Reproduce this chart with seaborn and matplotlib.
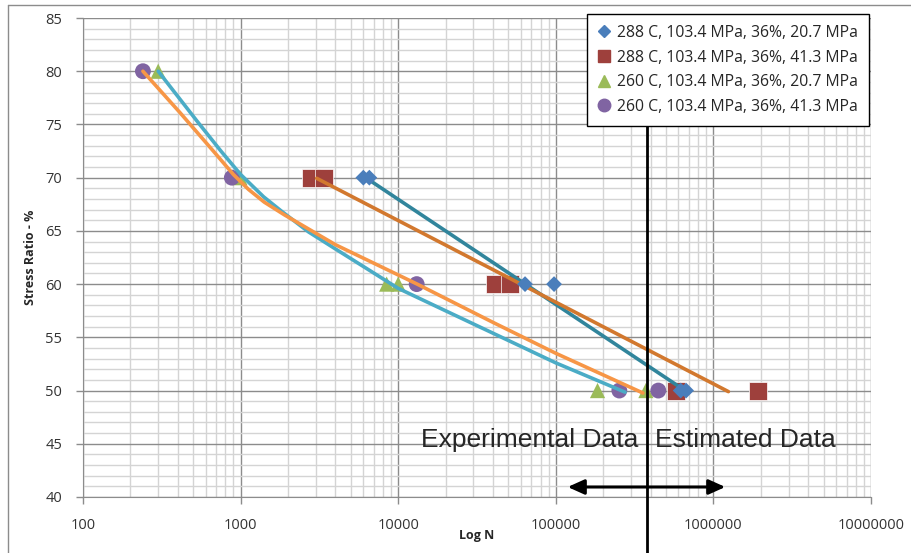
import numpy as np
import pandas as pd
import matplotlib
matplotlib.use("Agg")
import matplotlib.pyplot as plt
import seaborn as sns
from matplotlib.ticker import LogLocator, MultipleLocator, FixedLocator, NullFormatter
from matplotlib.lines import Line2D

# test points (N cycles, stress ratio %)
n_288_207 = [6010, 6560, 63800, 97500, 620000, 671000]
s_288_207 = [70, 70, 60, 60, 50, 50]
n_288_413 = [2780, 3360, 41400, 51500, 580000, 1910000]
s_288_413 = [70, 70, 60, 60, 50, 50]
n_260_207 = [300, 990, 8450, 10000, 184000, 373000]
s_260_207 = [80, 70, 60, 60, 50, 50]
n_260_413 = [240, 880, 13100, 253000, 447000]
s_260_413 = [80, 70, 60, 50, 50]

# fitted curves as drawn on the chart
fit_288_207_n = [6310, 676000]
fit_288_207_s = [69.94, 49.9]
fit_288_413_n = [3040, 1245000]
fit_288_413_s = [69.94, 49.9]
fit_260_207_n = [300, 530, 750, 1000, 1400, 1800, 2700, 4000, 10000, 31600, 100000, 275000]
fit_260_207_s = [80.0, 75.3, 72.5, 70.3, 68.2, 66.9, 64.9, 63.3, 59.6, 56.1, 52.6, 49.85]
fit_260_413_n = [240, 413, 671, 900, 1122, 1413, 1900, 4000, 13200, 40000, 100000, 357000]
fit_260_413_s = [80.0, 76.1, 72.5, 70.3, 68.9, 67.7, 66.5, 63.7, 60.0, 56.4, 53.5, 49.77]

labels = ["288 C, 103.4 MPa, 36%, 20.7 MPa",
          "288 C, 103.4 MPa, 36%, 41.3 MPa",
          "260 C, 103.4 MPa, 36%, 20.7 MPa",
          "260 C, 103.4 MPa, 36%, 41.3 MPa"]

split_n = 377000

sns.set_style("white")
plt.rcParams['font.family'] = ['Open Sans', 'DejaVu Sans']

W, H = 911, 553
fig = plt.figure(figsize=(W / 100, H / 100), dpi=100)
ax = fig.add_axes([83 / W, 1 - 497 / H, (871 - 83) / W, (497 - 18) / H])

# fitted lines
sns.lineplot(x=fit_288_207_n, y=fit_288_207_s, ax=ax, color="#31859C", lw=2.6, sort=False, zorder=3)
sns.lineplot(x=fit_288_413_n, y=fit_288_413_s, ax=ax, color="#D2782E", lw=2.6, sort=False, zorder=3)
sns.lineplot(x=fit_260_207_n, y=fit_260_207_s, ax=ax, color="#4BACC6", lw=2.6, sort=False, zorder=3)
sns.lineplot(x=fit_260_413_n, y=fit_260_413_s, ax=ax, color="#F79646", lw=2.6, sort=False, zorder=3)

# markers
sns.scatterplot(x=n_288_207, y=s_288_207, ax=ax, marker="D", s=65, color="#4A7EBB", edgecolor="none", zorder=4)
sns.scatterplot(x=n_288_413, y=s_288_413, ax=ax, marker="s", s=150, color="#9E403C", edgecolor="white", linewidth=0.5, zorder=2)
sns.scatterplot(x=n_260_207, y=s_260_207, ax=ax, marker="^", s=120, color="#9BBB59", edgecolor="none", zorder=2)
sns.scatterplot(x=n_260_413, y=s_260_413, ax=ax, marker="o", s=130, color="#8064A2", edgecolor="none", zorder=2)

ax.set_xscale("log")
ax.set_xlim(100, 1e7)
ax.set_ylim(40, 85)
ax.xaxis.set_major_locator(FixedLocator([1e2, 1e3, 1e4, 1e5, 1e6, 1e7]))
ax.xaxis.set_minor_locator(LogLocator(base=10, subs=np.arange(2, 10), numticks=20))
ax.xaxis.set_minor_formatter(NullFormatter())
ax.set_xticklabels(["100", "1000", "10000", "100000", "1000000", "10000000"])
ax.yaxis.set_major_locator(MultipleLocator(5))
ax.yaxis.set_minor_locator(MultipleLocator(1))

ax.grid(which="major", color="#8c8c8c", lw=1.0, zorder=0)
ax.grid(which="minor", color="#d4d4d4", lw=1.0, zorder=0)
ax.set_axisbelow(True)
for side in ["top", "right"]:
    ax.spines[side].set_visible(False)
for side in ["left", "bottom"]:
    ax.spines[side].set_color("#8c8c8c")
ax.tick_params(which="major", direction="out", length=5, width=1, color="#8c8c8c",
               labelsize=10.5, labelcolor="#333333", pad=10, left=True, bottom=True)
ax.tick_params(which="minor", length=0)

ax.set_xlabel("Log N", fontsize=9, fontweight="bold", labelpad=-3)
ax.set_ylabel("Stress Ratio - %", fontsize=9, fontweight="bold", labelpad=6)

# experimental / estimated divider
ax.plot([split_n, split_n], [75, 34.7], color="black", lw=2, clip_on=False, zorder=5)
ax.annotate("", xy=(1.19e6, 40.94), xytext=(1.19e5, 40.94),
            arrowprops=dict(arrowstyle="<|-|>,head_length=1.0,head_width=0.45", color="black", lw=2.2,
                            shrinkA=0, shrinkB=0), zorder=5)
ax.text(3.33e5, 45.35, "Experimental Data", ha="right", va="center", fontsize=19,
        family="Liberation Sans", zorder=5)
ax.text(4.26e5, 45.35, "Estimated Data", ha="left", va="center", fontsize=19,
        family="Liberation Sans", zorder=5)

handles = [
    Line2D([], [], ls="none", marker="D", ms=6.5, color="#4A7EBB"),
    Line2D([], [], ls="none", marker="s", ms=9, color="#9E403C"),
    Line2D([], [], ls="none", marker="^", ms=9, color="#9BBB59"),
    Line2D([], [], ls="none", marker="o", ms=9, color="#8064A2"),
]
leg = fig.legend(handles, labels, loc="upper right", bbox_to_anchor=(869 / W, 1 - 14 / H),
                 frameon=True, fancybox=False, edgecolor="black", framealpha=1,
                 fontsize=11.3, handlelength=0.8, handletextpad=0.45, labelspacing=0.55,
                 borderpad=0.7, borderaxespad=0)
leg.get_frame().set_linewidth(1.0)
leg.set_zorder(10)

# chart area border
fig.add_artist(Line2D([8 / W, 8 / W], [0, 1 - 5 / H], color="#8c8c8c", lw=1))
fig.add_artist(Line2D([8 / W, 1], [1 - 5 / H, 1 - 5 / H], color="#8c8c8c", lw=1))

fig.savefig("out.png", dpi=100)
